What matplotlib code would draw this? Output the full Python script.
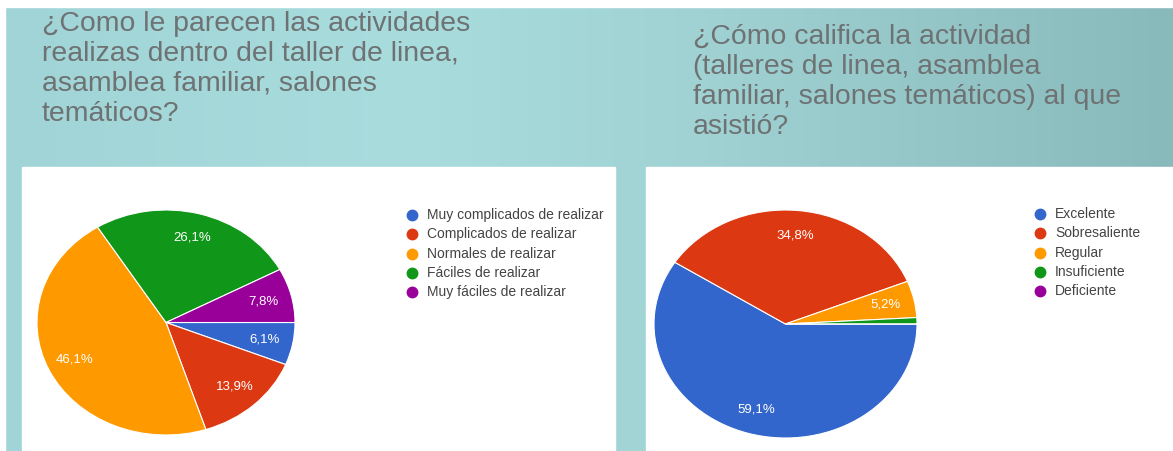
import matplotlib.pyplot as plt
import numpy as np
from matplotlib.patches import Rectangle
from matplotlib.colors import LinearSegmentedColormap

# data
labels_1 = ['Muy complicados de realizar', 'Complicados de realizar',
            'Normales de realizar', 'Fáciles de realizar', 'Muy fáciles de realizar']
values_1 = [6.1, 13.9, 46.1, 26.1, 7.8]
title_1 = '¿Como le parecen las actividades\nrealizas dentro del taller de linea,\nasamblea familiar, salones\ntemáticos?'

labels_2 = ['Excelente', 'Sobresaliente', 'Regular', 'Insuficiente', 'Deficiente']
values_2 = [59.1, 34.8, 5.2, 0.9, 0.0]
title_2 = '¿Cómo califica la actividad\n(talleres de linea, asamblea\nfamiliar, salones temáticos) al que\nasistió?'

colors = ['#3366cc', '#dc3912', '#ff9900', '#109618', '#990099']

W, H = 1173, 451
fig = plt.figure(figsize=(W / 100, H / 100), dpi=100)


def fx(px):
    return px / W


def fy(py):
    return 1 - py / H


# teal background gradient
bg = fig.add_axes([0, 0, 1, 1])
bg.set_axis_off()
cmap = LinearSegmentedColormap.from_list(
    'teal', [(0, '#a0d4d6'), (0.35, '#a8dcdd'), (0.6, '#a0d2d3'), (1, '#88babb')])
grad = np.linspace(0, 1, 256).reshape(1, -1)
bg.imshow(grad, aspect='auto', cmap=cmap, extent=[0, 1, 0, 1])
bg.set_xlim(0, 1)
bg.set_ylim(0, 1)
bg.add_patch(Rectangle((0, fy(7)), 1, 1, color='white'))
bg.add_patch(Rectangle((0, 0), fx(5), 1, color='white'))
# white panels
bg.add_patch(Rectangle((fx(22), 0), fx(615 - 22), fy(167), color='white'))
bg.add_patch(Rectangle((fx(646), 0), 1, fy(167), color='white'))

# titles
fig.text(fx(42), fy(11), title_1, ha='left', va='top', fontsize=20.4,
         family='Liberation Sans', color='#6e7273', linespacing=1.2)
fig.text(fx(693), fy(24), title_2, ha='left', va='top', fontsize=20.4,
         family='Liberation Sans', color='#6e7273', linespacing=1.2)


def draw_pie(box, values, labels, leg_x, leg_y):
    left, top, right, bottom = box
    ax = fig.add_axes([fx(left), fy(bottom), fx(right - left), (bottom - top) / H])
    wedges, texts, autotexts = ax.pie(
        values, colors=colors, startangle=0, counterclock=False,
        autopct=lambda p: (f'{p:.1f}%'.replace('.', ',') if p >= 3 else ''),
        pctdistance=0.78, wedgeprops=dict(edgecolor='white', linewidth=0.8),
        textprops=dict(color='white', fontsize=9.5, family='Liberation Sans'))
    ax.set_aspect('auto')
    ax.set_xlim(-1, 1)
    ax.set_ylim(-1, 1)
    ax.set_axis_off()
    # legend
    for i, (lab, c) in enumerate(zip(labels, colors)):
        y = leg_y + i * 19.3
        fig.add_artist(plt.Line2D([fx(leg_x)], [fy(y)], marker='o', markersize=7.5,
                                  color=c, linestyle='none'))
        fig.text(fx(leg_x + 15), fy(y), lab, ha='left', va='center', fontsize=10,
                 family='Liberation Sans', color='#444444')


draw_pie((37, 210, 295, 435), values_1, labels_1, 412, 215)
draw_pie((654, 210, 917, 438), values_2, labels_2, 1040, 214)

fig.savefig('out.png', dpi=100)
